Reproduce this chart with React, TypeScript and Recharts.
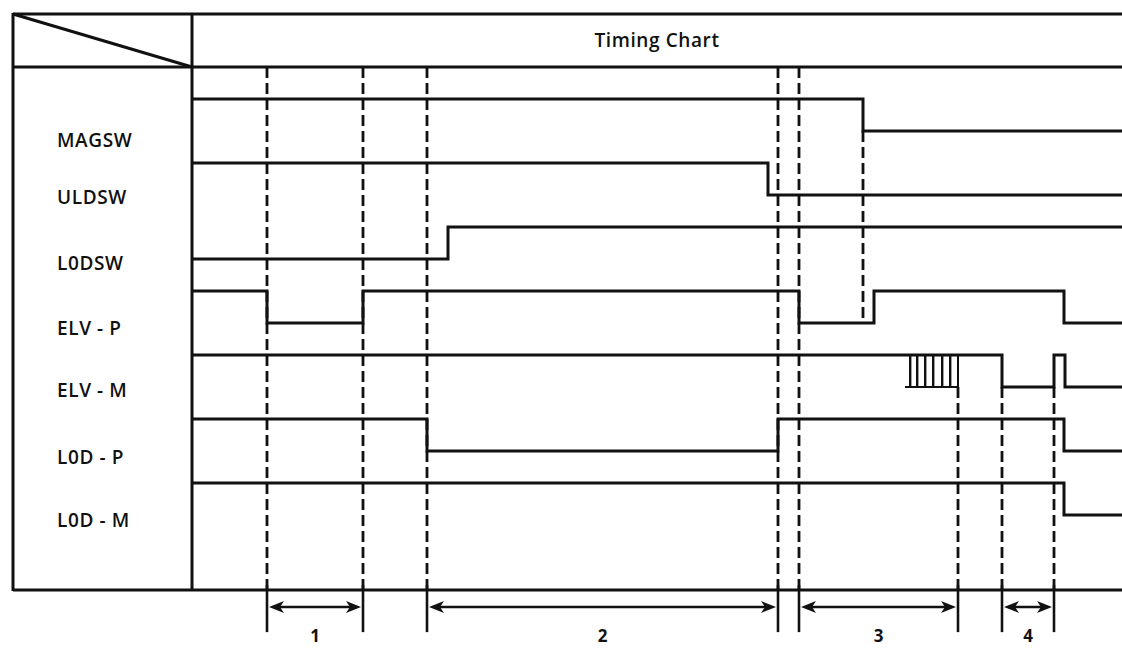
import React from 'react';
import { LineChart, Line, XAxis, YAxis, ReferenceLine } from 'recharts';

// signal names, top to bottom
const signalNames = ['MAGSW', 'ULDSW', 'L0DSW', 'ELV - P', 'ELV - M', 'L0D - P', 'L0D - M'];

// transitions for each signal: [time, level]
const magsw = [[0, 1], [671, 0], [930, 0]];
const uldsw = [[0, 1], [576, 0], [930, 0]];
const lodsw = [[0, 0], [256, 1], [930, 1]];
const elvP = [[0, 1], [75, 0], [171, 1], [607, 0], [682, 1], [872, 0], [930, 0]];
const elvM = [[0, 1], [810, 0], [862, 1], [873, 0], [930, 0]];
const lodP = [[0, 1], [235, 0], [586, 1], [872, 0], [930, 0]];
const lodM = [[0, 1], [872, 0], [930, 0]];
const signals = [magsw, uldsw, lodsw, elvP, elvM, lodP, lodM];

// ELV-M pulse train (hatched part)
const elvMPulseStart = 713;
const elvMPulses = [718, 725, 733, 741, 750, 758, 766];

// where the row labels sit on the level axis
const labelLevels = [12.72, 10.94, 8.88, 6.84, 4.9, 2.8, 0.84];

// timing marks
const fullMarkers = [75, 171, 235, 586, 607];
const magswMarker = 671;
const lateMarkers = [766, 810, 862];

// numbered phases along the bottom
const phases = [
  { from: 75, to: 171, label: '1' },
  { from: 235, to: 586, label: '2' },
  { from: 607, to: 766, label: '3' },
  { from: 810, to: 862, label: '4' },
];

const INK = '#111';
const FONT = '"Open Sans", "DejaVu Sans", sans-serif';
const FRAME_BOTTOM = -1.34;
const TICK_TOP = -1.19;
const TICK_BOTTOM = -2.66;
const ARROW_LEVEL = -1.875;

const laneBase = (k: number) => 13 - 2 * k;

const seriesData = signals.map((s, k) => s.map(([t, lv]) => ({ t, v: lv + laneBase(k) })));

const pulseData = (() => {
  const lo = laneBase(4);
  const pts = [{ t: elvMPulseStart, v: lo }];
  elvMPulses.forEach((p, i) => {
    pts.push({ t: p, v: lo + 1 });
    if (i < elvMPulses.length - 1) pts.push({ t: p + 0.4, v: lo });
  });
  return pts;
})();

const textStyle = { fontFamily: FONT, fontWeight: 600, fontSize: 19, letterSpacing: 0.6 };

function RowLabel(props: any) {
  const { y, payload } = props;
  const idx = labelLevels.indexOf(payload.value);
  return (
    <text x={57} y={y} dy="0.36em" textAnchor="start" fill={INK} style={textStyle}>
      {signalNames[idx]}
    </text>
  );
}

function PhaseArrow(props: any) {
  const { x1, x2, y1, text } = props;
  const y = y1;
  const l = x1 + 2;
  const r = x2 - 2;
  return (
    <g>
      <line x1={l + 6} y1={y} x2={r - 6} y2={y} stroke={INK} strokeWidth={2.5} />
      <path d={`M${l},${y} L${l + 15},${y - 6} L${l + 11},${y} L${l + 15},${y + 6} Z`} fill={INK} />
      <path d={`M${r},${y} L${r - 15},${y - 6} L${r - 11},${y} L${r - 15},${y + 6} Z`} fill={INK} />
      <text x={(x1 + x2) / 2} y={y + 35} textAnchor="middle" fill={INK}
        style={{ fontFamily: FONT, fontWeight: 700, fontSize: 17 }}>
        {text}
      </text>
    </g>
  );
}

export default function App() {
  const dash = { stroke: INK, strokeWidth: 2.8, strokeDasharray: '11 5' };
  const tickMarks = Array.from(new Set(phases.flatMap((p) => [p.from, p.to])));
  return (
    <div style={{ position: 'absolute', left: 0, top: 0, width: 1122, height: 648, background: '#fff' }}>
      <LineChart width={1122} height={648} margin={{ top: 67, right: 0, bottom: 5, left: 0 }}>
        <XAxis type="number" dataKey="t" domain={[0, 930]} allowDataOverflow hide />
        <YAxis type="number" domain={[-3, 15]} allowDataOverflow width={192}
          ticks={labelLevels} interval={0} axisLine={false} tickLine={false} tick={<RowLabel />} />
        {fullMarkers.map((t) => (
          <ReferenceLine key={`f${t}`} segment={[{ x: t, y: 15 }, { x: t, y: FRAME_BOTTOM }]} {...dash} />
        ))}
        <ReferenceLine segment={[{ x: magswMarker, y: laneBase(0) }, { x: magswMarker, y: laneBase(3) }]} {...dash} />
        {lateMarkers.map((t) => (
          <ReferenceLine key={`l${t}`} segment={[{ x: t, y: laneBase(4) }, { x: t, y: FRAME_BOTTOM }]} {...dash} />
        ))}
        {tickMarks.map((t) => (
          <ReferenceLine key={`k${t}`} segment={[{ x: t, y: TICK_TOP }, { x: t, y: TICK_BOTTOM }]} stroke={INK} strokeWidth={2.6} />
        ))}
        {phases.map((p) => (
          <ReferenceLine key={`p${p.label}`} segment={[{ x: p.from, y: ARROW_LEVEL }, { x: p.to, y: ARROW_LEVEL }]}
            stroke={INK} shape={(sp: any) => <PhaseArrow {...sp} text={p.label} />} />
        ))}
        {seriesData.map((d, k) => (
          <Line key={signalNames[k]} data={d} dataKey="v" type="stepAfter" stroke={INK} strokeWidth={3}
            dot={false} activeDot={false} isAnimationActive={false} />
        ))}
        <Line data={pulseData} dataKey="v" type="stepAfter" stroke={INK} strokeWidth={2}
          dot={false} activeDot={false} isAnimationActive={false} />
      </LineChart>
      <svg width={1122} height={648} style={{ position: 'absolute', left: 0, top: 0, pointerEvents: 'none' }}>
        <g stroke={INK} strokeWidth={3} fill="none">
          <line x1={13} y1={14} x2={1122} y2={14} />
          <line x1={13} y1={67} x2={1122} y2={67} />
          <line x1={13} y1={590} x2={1122} y2={590} />
          <line x1={13} y1={13} x2={13} y2={591} />
          <line x1={192} y1={13} x2={192} y2={591} />
          <line x1={13} y1={14} x2={192} y2={67} />
        </g>
        <text x={657} y={40} dy="0.36em" textAnchor="middle" fill={INK} style={textStyle}>
          Timing Chart
        </text>
      </svg>
    </div>
  );
}
